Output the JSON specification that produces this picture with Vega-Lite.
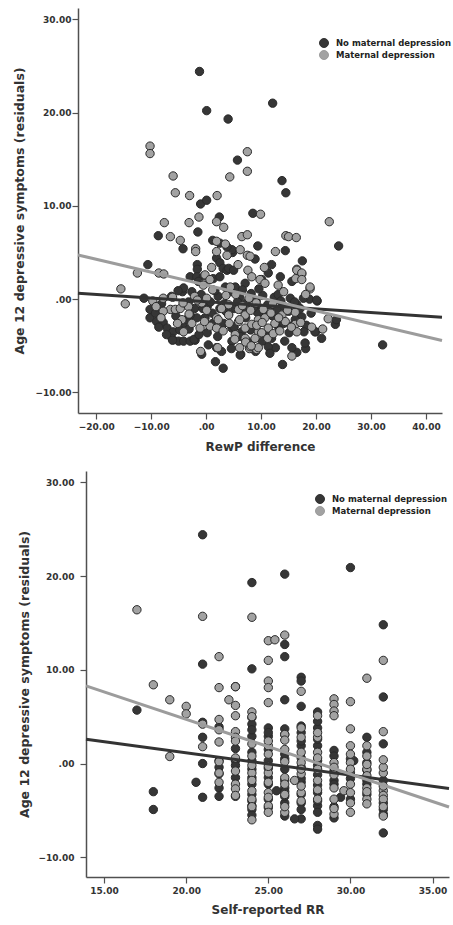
{
"$schema":"https://vega.github.io/schema/vega-lite/v6.json",
"padding":{"left":13,"top":8,"right":2,"bottom":2},
"background":"white",
"config":{"view":{"stroke":null},"font":"DejaVu Sans",
 "axis":{"grid":false,"domainColor":"#505050","domainWidth":1.5,"tickColor":"#505050","tickWidth":1.2,"tickSize":6,"labelFont":"DejaVu Sans","labelFontWeight":"bold","labelFontSize":9,"labelColor":"#333","titleFont":"DejaVu Sans","titleFontWeight":"bold","titleColor":"#333"},
 "legend":{"labelFont":"DejaVu Sans","labelFontWeight":"bold","labelFontSize":8.5,"labelColor":"#222","symbolType":"circle","symbolSize":81,"symbolStrokeColor":"#222","symbolStrokeWidth":1,"rowPadding":-3,"padding":0,"labelOffset":7}},
"datasets":{
"top":[
{"x":-1.2,"y":24.4,"g":"N"},{"x":0.1,"y":20.2,"g":"N"},{"x":4.0,"y":19.3,"g":"N"},{"x":12.1,"y":21.0,"g":"N"},{"x":5.7,"y":14.9,"g":"N"},{"x":13.8,"y":12.7,"g":"N"},{"x":14.5,"y":11.4,"g":"N"},{"x":-1.0,"y":10.2,"g":"N"},{"x":0.1,"y":10.6,"g":"N"},{"x":8.5,"y":9.2,"g":"N"},{"x":2.4,"y":8.8,"g":"N"},{"x":-8.7,"y":6.8,"g":"N"},{"x":-1.5,"y":7.2,"g":"N"},{"x":24.1,"y":5.7,"g":"N"},{"x":9.4,"y":5.7,"g":"N"},{"x":1.2,"y":6.3,"g":"N"},{"x":-4.2,"y":5.4,"g":"N"},{"x":4.8,"y":5.0,"g":"N"},{"x":14.4,"y":5.2,"g":"N"},{"x":17.5,"y":4.1,"g":"N"},{"x":-10.6,"y":3.7,"g":"N"},{"x":32.1,"y":-4.9,"g":"N"},{"x":13.9,"y":-7.0,"g":"N"},{"x":3.1,"y":-7.4,"g":"N"},{"x":1.7,"y":-6.7,"g":"N"},{"x":6.3,"y":-5.9,"g":"N"},{"x":-0.8,"y":-5.9,"g":"N"},{"x":0.4,"y":-4.9,"g":"N"},{"x":14.3,"y":-4.5,"g":"N"},{"x":21.0,"y":-4.2,"g":"N"},{"x":19.9,"y":-3.5,"g":"N"},{"x":23.5,"y":-2.7,"g":"N"},{"x":23.7,"y":-2.2,"g":"N"},{"x":20.2,"y":-0.2,"g":"N"},{"x":18.8,"y":0.0,"g":"N"},{"x":18.1,"y":-5.3,"g":"N"},{"x":16.5,"y":-5.7,"g":"N"},{"x":15.6,"y":-5.2,"g":"N"},{"x":12.6,"y":-5.2,"g":"N"},
{"x":-11.3,"y":0.1,"g":"N"},{"x":-10.2,"y":-1.1,"g":"N"},{"x":-10.2,"y":-2.0,"g":"N"},{"x":-9.0,"y":-2.4,"g":"N"},{"x":-7.8,"y":-2.5,"g":"N"},{"x":-7.1,"y":-3.1,"g":"N"},{"x":-6.0,"y":-3.5,"g":"N"},{"x":-6.2,"y":-4.2,"g":"N"},{"x":-5.0,"y":-4.5,"g":"N"},{"x":-4.1,"y":-4.5,"g":"N"},{"x":-2.9,"y":-4.5,"g":"N"},{"x":-2.0,"y":-4.4,"g":"N"},{"x":-4.3,"y":0.8,"g":"N"},{"x":-2.6,"y":0.8,"g":"N"},{"x":1.9,"y":-5.2,"g":"N"},{"x":-1.7,"y":-2.0,"g":"N"},{"x":-0.2,"y":-2.0,"g":"N"},{"x":-2.9,"y":-1.7,"g":"N"},{"x":2.5,"y":-1.0,"g":"N"},
{"x":17.7,"y":0.1,"g":"N"},{"x":20.1,"y":-0.1,"g":"N"},{"x":19.8,"y":-3.5,"g":"N"},{"x":18.0,"y":-4.7,"g":"N"},{"x":4.7,"y":-4.5,"g":"N"},{"x":6.2,"y":-6.0,"g":"N"},{"x":11.3,"y":-5.1,"g":"N"},{"x":11.9,"y":-4.2,"g":"N"},{"x":6.5,"y":-3.5,"g":"N"},{"x":4.7,"y":-3.1,"g":"N"},{"x":10.1,"y":-1.0,"g":"N"},{"x":12.5,"y":-1.0,"g":"N"},{"x":15.0,"y":-1.3,"g":"N"},{"x":17.4,"y":-1.9,"g":"N"},{"x":16.5,"y":-0.6,"g":"N"},
{"x":-1.6,"y":3.7,"g":"N"},{"x":-1.6,"y":3.2,"g":"N"},{"x":2.5,"y":6.0,"g":"N"},{"x":1.9,"y":4.4,"g":"N"},{"x":2.5,"y":3.9,"g":"N"},{"x":3.1,"y":3.3,"g":"N"},{"x":3.8,"y":3.1,"g":"N"},{"x":-2.9,"y":2.4,"g":"N"},{"x":-1.7,"y":2.4,"g":"N"},{"x":-0.5,"y":2.4,"g":"N"},{"x":1.3,"y":2.2,"g":"N"},{"x":2.5,"y":2.4,"g":"N"},{"x":-4.1,"y":1.2,"g":"N"},{"x":-1.4,"y":1.9,"g":"N"},
{"x":4.7,"y":5.3,"g":"N"},{"x":3.8,"y":5.6,"g":"N"},{"x":8.9,"y":4.3,"g":"N"},{"x":4.1,"y":3.3,"g":"N"},{"x":5.0,"y":3.1,"g":"N"},{"x":11.9,"y":3.7,"g":"N"},{"x":11.3,"y":2.8,"g":"N"},{"x":15.6,"y":1.9,"g":"N"},{"x":10.1,"y":2.1,"g":"N"},{"x":13.5,"y":2.4,"g":"N"},{"x":7.1,"y":1.7,"g":"N"},{"x":5.3,"y":1.3,"g":"N"},{"x":3.5,"y":1.3,"g":"N"},
{"x":-3.2,"y":-0.3,"g":"N"},{"x":-2.1,"y":-1.0,"g":"N"},{"x":-0.9,"y":0.5,"g":"N"},{"x":0.2,"y":-0.8,"g":"N"},{"x":1.1,"y":-1.5,"g":"N"},{"x":2.2,"y":0.3,"g":"N"},{"x":3.3,"y":-0.5,"g":"N"},{"x":4.4,"y":0.8,"g":"N"},{"x":5.2,"y":-1.0,"g":"N"},{"x":6.1,"y":0.2,"g":"N"},{"x":7.3,"y":-0.4,"g":"N"},{"x":8.2,"y":0.6,"g":"N"},{"x":9.1,"y":-0.2,"g":"N"},{"x":10.3,"y":0.4,"g":"N"},{"x":11.2,"y":-0.6,"g":"N"},{"x":12.4,"y":0.2,"g":"N"},{"x":13.1,"y":0.5,"g":"N"},{"x":14.2,"y":-0.8,"g":"N"},{"x":15.3,"y":0.1,"g":"N"},{"x":16.1,"y":-0.3,"g":"N"},{"x":-5.1,"y":0.9,"g":"N"},{"x":-6.3,"y":0.3,"g":"N"},{"x":-8.1,"y":-0.5,"g":"N"},{"x":-9.2,"y":-1.5,"g":"N"},{"x":-4.2,"y":-2.6,"g":"N"},{"x":-3.1,"y":-3.2,"g":"N"},{"x":0.2,"y":-3.6,"g":"N"},{"x":2.1,"y":-4.0,"g":"N"},{"x":3.2,"y":-2.6,"g":"N"},{"x":5.1,"y":-3.0,"g":"N"},{"x":6.2,"y":-4.0,"g":"N"},{"x":8.1,"y":-3.3,"g":"N"},{"x":10.2,"y":-4.5,"g":"N"},{"x":11.1,"y":-3.8,"g":"N"},{"x":13.2,"y":-3.0,"g":"N"},{"x":15.1,"y":-3.6,"g":"N"},{"x":16.2,"y":-2.2,"g":"N"},{"x":17.1,"y":-1.0,"g":"N"},{"x":18.2,"y":-2.8,"g":"N"},{"x":19.1,"y":-1.5,"g":"N"},{"x":-7.2,"y":-3.8,"g":"N"},{"x":-6.1,"y":-4.4,"g":"N"},{"x":-2.2,"y":-4.3,"g":"N"},{"x":1.2,"y":-2.6,"g":"N"},{"x":4.1,"y":-1.6,"g":"N"},{"x":7.2,"y":-2.0,"g":"N"},{"x":9.3,"y":-1.4,"g":"N"},{"x":12.1,"y":-1.8,"g":"N"},{"x":14.1,"y":-2.6,"g":"N"},
{"x":-5.5,"y":-1.8,"g":"N"},{"x":-3.6,"y":-2.2,"g":"N"},{"x":-1.3,"y":-3.8,"g":"N"},{"x":0.8,"y":-0.3,"g":"N"},{"x":1.6,"y":0.9,"g":"N"},{"x":3.6,"y":-1.3,"g":"N"},{"x":5.7,"y":-0.3,"g":"N"},{"x":6.8,"y":-1.2,"g":"N"},{"x":8.6,"y":-0.9,"g":"N"},{"x":9.8,"y":-2.2,"g":"N"},{"x":10.8,"y":-1.6,"g":"N"},{"x":12.9,"y":-1.2,"g":"N"},{"x":13.6,"y":-0.2,"g":"N"},{"x":15.8,"y":-2.8,"g":"N"},{"x":17.8,"y":-3.5,"g":"N"},{"x":-8.6,"y":-3.0,"g":"N"},{"x":-4.8,"y":-3.3,"g":"N"},{"x":2.8,"y":-5.6,"g":"N"},{"x":4.6,"y":-5.3,"g":"N"},{"x":7.8,"y":-4.6,"g":"N"},{"x":9.0,"y":-5.6,"g":"N"},{"x":11.6,"y":-5.8,"g":"N"},{"x":6.6,"y":1.0,"g":"N"},{"x":9.6,"y":1.1,"g":"N"},{"x":-0.6,"y":-1.0,"g":"N"},
{"x":-10.2,"y":16.4,"g":"M"},{"x":-10.2,"y":15.6,"g":"M"},{"x":7.5,"y":15.8,"g":"M"},{"x":7.5,"y":13.7,"g":"M"},{"x":4.3,"y":13.1,"g":"M"},{"x":-6.0,"y":13.2,"g":"M"},{"x":-5.6,"y":11.4,"g":"M"},{"x":-3.0,"y":11.1,"g":"M"},{"x":2.0,"y":11.1,"g":"M"},{"x":9.9,"y":9.1,"g":"M"},{"x":-1.3,"y":8.8,"g":"M"},{"x":-3.1,"y":8.2,"g":"M"},{"x":-7.6,"y":8.2,"g":"M"},{"x":1.9,"y":8.3,"g":"M"},{"x":3.2,"y":7.7,"g":"M"},{"x":22.4,"y":8.3,"g":"M"},{"x":-6.5,"y":6.7,"g":"M"},{"x":-4.7,"y":6.3,"g":"M"},{"x":6.5,"y":6.7,"g":"M"},{"x":7.5,"y":6.9,"g":"M"},{"x":14.5,"y":6.8,"g":"M"},{"x":15.0,"y":6.7,"g":"M"},{"x":16.4,"y":6.6,"g":"M"},{"x":3.5,"y":5.9,"g":"M"},{"x":-1.9,"y":5.4,"g":"M"},{"x":-1.9,"y":5.1,"g":"M"},{"x":12.6,"y":5.1,"g":"M"},{"x":7.5,"y":4.7,"g":"M"},{"x":-12.5,"y":2.8,"g":"M"},{"x":-15.5,"y":1.1,"g":"M"},{"x":-14.7,"y":-0.5,"g":"M"},{"x":-8.6,"y":2.8,"g":"M"},{"x":-7.7,"y":2.7,"g":"M"},{"x":18.9,"y":1.1,"g":"M"},{"x":22.2,"y":-2.1,"g":"M"},{"x":21.2,"y":-3.2,"g":"M"},{"x":15.6,"y":-6.1,"g":"M"},{"x":-1.0,"y":-5.6,"g":"M"},{"x":2.1,"y":-5.2,"g":"M"},{"x":7.9,"y":-5.3,"g":"M"},{"x":9.2,"y":-5.4,"g":"M"},{"x":16.5,"y":3.2,"g":"M"},{"x":17.4,"y":2.7,"g":"M"},{"x":5.8,"y":3.7,"g":"M"},{"x":9.8,"y":2.1,"g":"M"},{"x":-0.2,"y":1.7,"g":"M"},
{"x":-9.7,"y":-0.2,"g":"M"},{"x":-7.8,"y":0.1,"g":"M"},{"x":-6.5,"y":-1.1,"g":"M"},{"x":-7.8,"y":-1.3,"g":"M"},{"x":-5.6,"y":-1.1,"g":"M"},{"x":-4.7,"y":-1.0,"g":"M"},{"x":-4.4,"y":-2.2,"g":"M"},{"x":-4.1,"y":-3.5,"g":"M"},{"x":-3.2,"y":-0.8,"g":"M"},{"x":-0.8,"y":-0.4,"g":"M"},{"x":0.1,"y":0.1,"g":"M"},{"x":-1.1,"y":-3.1,"g":"M"},{"x":0.7,"y":-2.9,"g":"M"},{"x":1.9,"y":-2.0,"g":"M"},{"x":1.9,"y":-3.1,"g":"M"},
{"x":4.1,"y":-0.6,"g":"M"},{"x":4.1,"y":-1.7,"g":"M"},{"x":5.9,"y":-1.1,"g":"M"},{"x":5.9,"y":-2.4,"g":"M"},{"x":7.1,"y":-1.7,"g":"M"},{"x":7.1,"y":-3.1,"g":"M"},{"x":8.3,"y":-2.7,"g":"M"},{"x":9.5,"y":-2.2,"g":"M"},{"x":9.5,"y":-3.5,"g":"M"},{"x":10.7,"y":-2.0,"g":"M"},{"x":11.3,"y":-3.1,"g":"M"},{"x":12.5,"y":-2.6,"g":"M"},{"x":13.8,"y":-1.7,"g":"M"},{"x":14.4,"y":-2.4,"g":"M"},{"x":16.2,"y":-2.7,"g":"M"},{"x":16.5,"y":-3.5,"g":"M"},{"x":5.3,"y":-3.8,"g":"M"},{"x":7.1,"y":-4.2,"g":"M"},{"x":8.9,"y":-4.2,"g":"M"},{"x":8.0,"y":-5.1,"g":"M"},{"x":9.5,"y":-5.2,"g":"M"},
{"x":1.9,"y":5.1,"g":"M"},{"x":3.8,"y":4.7,"g":"M"},{"x":1.9,"y":6.2,"g":"M"},{"x":1.0,"y":3.4,"g":"M"},{"x":-0.2,"y":2.6,"g":"M"},{"x":0.7,"y":2.1,"g":"M"},{"x":-0.5,"y":1.5,"g":"M"},{"x":4.4,"y":1.3,"g":"M"},
{"x":6.2,"y":5.3,"g":"M"},{"x":8.0,"y":4.6,"g":"M"},{"x":7.6,"y":3.1,"g":"M"},{"x":10.6,"y":3.4,"g":"M"},{"x":16.5,"y":3.1,"g":"M"},{"x":17.4,"y":2.8,"g":"M"},{"x":16.3,"y":2.2,"g":"M"},{"x":17.4,"y":2.1,"g":"M"},{"x":8.3,"y":2.4,"g":"M"},{"x":10.7,"y":1.7,"g":"M"},{"x":13.1,"y":1.5,"g":"M"},{"x":18.9,"y":1.3,"g":"M"},
{"x":-6.1,"y":0.2,"g":"M"},{"x":-4.2,"y":-0.4,"g":"M"},{"x":-2.1,"y":0.3,"g":"M"},{"x":0.1,"y":-1.2,"g":"M"},{"x":2.2,"y":-2.2,"g":"M"},{"x":3.1,"y":-3.4,"g":"M"},{"x":5.2,"y":-4.3,"g":"M"},{"x":6.1,"y":-2.2,"g":"M"},{"x":7.2,"y":-4.6,"g":"M"},{"x":8.1,"y":-1.2,"g":"M"},{"x":9.2,"y":-2.8,"g":"M"},{"x":10.1,"y":-3.6,"g":"M"},{"x":11.2,"y":-4.2,"g":"M"},{"x":12.1,"y":-0.5,"g":"M"},{"x":13.2,"y":-2.0,"g":"M"},{"x":14.1,"y":0.8,"g":"M"},{"x":16.2,"y":-1.4,"g":"M"},{"x":17.2,"y":-2.5,"g":"M"},{"x":18.1,"y":0.5,"g":"M"},{"x":19.2,"y":-3.0,"g":"M"},{"x":-8.2,"y":-2.0,"g":"M"},{"x":-9.1,"y":-0.8,"g":"M"},{"x":-3.1,"y":-1.6,"g":"M"},{"x":1.2,"y":1.0,"g":"M"},{"x":4.2,"y":-2.6,"g":"M"},{"x":6.1,"y":-5.2,"g":"M"},{"x":8.2,"y":-5.0,"g":"M"},{"x":10.2,"y":-2.5,"g":"M"},{"x":12.2,"y":-3.7,"g":"M"},
{"x":-2.6,"y":-2.6,"g":"M"},{"x":-0.3,"y":-2.4,"g":"M"},{"x":2.8,"y":-1.0,"g":"M"},{"x":3.6,"y":0.4,"g":"M"},{"x":5.4,"y":0.5,"g":"M"},{"x":6.6,"y":-0.7,"g":"M"},{"x":7.8,"y":0.1,"g":"M"},{"x":9.1,"y":-0.4,"g":"M"},{"x":10.4,"y":-1.1,"g":"M"},{"x":11.8,"y":-1.5,"g":"M"},{"x":13.4,"y":-3.4,"g":"M"},{"x":14.8,"y":-1.2,"g":"M"},{"x":15.5,"y":-3.0,"g":"M"},{"x":-5.2,"y":-2.6,"g":"M"},{"x":-1.6,"y":-0.1,"g":"M"}
],
"topLines":[{"x":-23.3,"y":0.64,"g":"N"},{"x":42.9,"y":-1.93,"g":"N"},{"x":-23.3,"y":4.74,"g":"M"},{"x":42.9,"y":-4.43,"g":"M"}],
"bot":[
{"x":17,"y":5.7,"g":"N"},{"x":18,"y":-3.0,"g":"N"},{"x":18,"y":-4.9,"g":"N"},{"x":20.6,"y":-2.0,"g":"N"},
{"x":21,"y":24.4,"g":"N"},{"x":21,"y":10.6,"g":"N"},{"x":21,"y":4.4,"g":"N"},{"x":21,"y":2.8,"g":"N"},{"x":21,"y":0.0,"g":"N"},{"x":21,"y":-3.6,"g":"N"},
{"x":22,"y":0.3,"g":"N"},{"x":22,"y":-0.4,"g":"N"},{"x":22,"y":-1.1,"g":"N"},{"x":22,"y":-2.6,"g":"N"},{"x":22,"y":-3.5,"g":"N"},{"x":22,"y":3.9,"g":"N"},
{"x":23,"y":8.2,"g":"N"},{"x":23,"y":0.3,"g":"N"},{"x":23,"y":-3.5,"g":"N"},{"x":23,"y":-0.2,"g":"N"},{"x":23,"y":-1.5,"g":"N"},{"x":23,"y":1.6,"g":"N"},
{"x":24,"y":19.3,"g":"N"},{"x":24,"y":10.1,"g":"N"},{"x":24,"y":4.9,"g":"N"},{"x":24,"y":4.2,"g":"N"},{"x":24,"y":2.9,"g":"N"},{"x":24,"y":0.3,"g":"N"},{"x":24,"y":-4.0,"g":"N"},{"x":24,"y":-4.9,"g":"N"},{"x":24,"y":3.6,"g":"N"},{"x":24,"y":-0.6,"g":"N"},{"x":24,"y":-2.2,"g":"N"},{"x":24,"y":-3.3,"g":"N"},{"x":24,"y":-4.5,"g":"N"},{"x":24,"y":1.2,"g":"N"},{"x":24,"y":-1.5,"g":"N"},{"x":24,"y":-5.5,"g":"N"},
{"x":25,"y":3.8,"g":"N"},{"x":25,"y":2.9,"g":"N"},{"x":25,"y":0.3,"g":"N"},{"x":25,"y":-3.8,"g":"N"},{"x":25.5,"y":-2.9,"g":"N"},{"x":25,"y":3.3,"g":"N"},{"x":25,"y":-0.5,"g":"N"},{"x":25,"y":-1.5,"g":"N"},{"x":25,"y":-4.7,"g":"N"},{"x":25,"y":1.5,"g":"N"},{"x":25,"y":-2.2,"g":"N"},
{"x":26,"y":20.2,"g":"N"},{"x":26,"y":12.7,"g":"N"},{"x":26,"y":11.4,"g":"N"},{"x":26,"y":6.8,"g":"N"},{"x":26,"y":3.7,"g":"N"},{"x":26,"y":0.5,"g":"N"},{"x":26,"y":-0.6,"g":"N"},{"x":26,"y":-2.6,"g":"N"},{"x":26,"y":-4.2,"g":"N"},{"x":26,"y":3.1,"g":"N"},{"x":26,"y":-1.8,"g":"N"},{"x":26,"y":-3.5,"g":"N"},{"x":26,"y":1.0,"g":"N"},{"x":26,"y":-3.0,"g":"N"},{"x":26,"y":-5.6,"g":"N"},
{"x":27,"y":9.2,"g":"N"},{"x":27,"y":8.8,"g":"N"},{"x":27,"y":6.1,"g":"N"},{"x":27,"y":4.0,"g":"N"},{"x":27,"y":1.9,"g":"N"},{"x":27,"y":-2.0,"g":"N"},{"x":27,"y":-4.2,"g":"N"},{"x":27,"y":-4.9,"g":"N"},{"x":27,"y":-5.9,"g":"N"},{"x":26.6,"y":-5.9,"g":"N"},{"x":27,"y":3.3,"g":"N"},{"x":27,"y":-0.4,"g":"N"},{"x":27,"y":-3.3,"g":"N"},{"x":27,"y":0.6,"g":"N"},{"x":27,"y":-1.6,"g":"N"},{"x":27,"y":2.4,"g":"N"},
{"x":28,"y":5.5,"g":"N"},{"x":28,"y":3.8,"g":"N"},{"x":28,"y":1.9,"g":"N"},{"x":28,"y":0.3,"g":"N"},{"x":28,"y":-3.1,"g":"N"},{"x":28,"y":-4.5,"g":"N"},{"x":28,"y":-5.2,"g":"N"},{"x":28,"y":-6.6,"g":"N"},{"x":28,"y":-7.0,"g":"N"},{"x":28,"y":2.6,"g":"N"},{"x":28,"y":-1.2,"g":"N"},{"x":28,"y":-2.3,"g":"N"},{"x":28,"y":-0.2,"g":"N"},{"x":28,"y":-4.0,"g":"N"},{"x":28,"y":4.5,"g":"N"},
{"x":29,"y":1.4,"g":"N"},{"x":29,"y":0.8,"g":"N"},{"x":29,"y":-0.8,"g":"N"},{"x":29.4,"y":-3.6,"g":"N"},{"x":29,"y":-5.8,"g":"N"},{"x":29,"y":-1.8,"g":"N"},{"x":29,"y":-2.2,"g":"N"},{"x":29,"y":-4.6,"g":"N"},
{"x":30,"y":20.9,"g":"N"},{"x":30,"y":0.5,"g":"N"},{"x":30,"y":-1.0,"g":"N"},{"x":30.2,"y":0.3,"g":"N"},{"x":30,"y":-1.6,"g":"N"},{"x":30,"y":-3.8,"g":"N"},
{"x":31,"y":2.8,"g":"N"},{"x":31,"y":0.1,"g":"N"},{"x":31,"y":-1.8,"g":"N"},{"x":31,"y":-3.3,"g":"N"},{"x":31,"y":-0.7,"g":"N"},{"x":31,"y":1.2,"g":"N"},{"x":31,"y":-2.2,"g":"N"},
{"x":32,"y":14.8,"g":"N"},{"x":32,"y":7.1,"g":"N"},{"x":32,"y":2.1,"g":"N"},{"x":32,"y":-1.8,"g":"N"},{"x":32,"y":-4.9,"g":"N"},{"x":32,"y":-5.4,"g":"N"},{"x":32,"y":-7.4,"g":"N"},{"x":32,"y":-4.2,"g":"N"},
{"x":17,"y":16.4,"g":"M"},{"x":18,"y":8.4,"g":"M"},{"x":19,"y":6.8,"g":"M"},{"x":19,"y":0.75,"g":"M"},{"x":20,"y":6.1,"g":"M"},{"x":20,"y":5.3,"g":"M"},
{"x":21,"y":15.7,"g":"M"},{"x":21,"y":4.2,"g":"M"},{"x":21,"y":1.8,"g":"M"},
{"x":22,"y":11.4,"g":"M"},{"x":22,"y":8.1,"g":"M"},{"x":22,"y":4.7,"g":"M"},{"x":22,"y":2.3,"g":"M"},{"x":22,"y":-1.0,"g":"M"},{"x":22,"y":3.6,"g":"M"},{"x":22,"y":0.2,"g":"M"},{"x":22,"y":-2.0,"g":"M"},
{"x":22.6,"y":6.8,"g":"M"},
{"x":23,"y":8.2,"g":"M"},{"x":23,"y":6.2,"g":"M"},{"x":23,"y":5.1,"g":"M"},{"x":23,"y":3.4,"g":"M"},{"x":23,"y":2.8,"g":"M"},{"x":23,"y":2.4,"g":"M"},{"x":23,"y":-0.8,"g":"M"},{"x":23,"y":-2.2,"g":"M"},{"x":23,"y":-2.7,"g":"M"},{"x":23,"y":-3.4,"g":"M"},{"x":23,"y":0.6,"g":"M"},
{"x":24,"y":15.6,"g":"M"},{"x":24,"y":5.5,"g":"M"},{"x":24,"y":2.1,"g":"M"},{"x":24,"y":-1.0,"g":"M"},{"x":24,"y":-1.8,"g":"M"},{"x":24,"y":-2.9,"g":"M"},{"x":24,"y":-6.0,"g":"M"},{"x":24,"y":-3.8,"g":"M"},{"x":24,"y":5.0,"g":"M"},{"x":24,"y":0.8,"g":"M"},{"x":24,"y":-0.2,"g":"M"},{"x":24,"y":-4.6,"g":"M"},
{"x":25,"y":13.1,"g":"M"},{"x":25,"y":11.0,"g":"M"},{"x":25,"y":8.8,"g":"M"},{"x":25,"y":8.1,"g":"M"},{"x":25,"y":6.5,"g":"M"},{"x":25,"y":1.9,"g":"M"},{"x":25,"y":1.0,"g":"M"},{"x":25,"y":-1.0,"g":"M"},{"x":25,"y":-2.0,"g":"M"},{"x":25,"y":-3.1,"g":"M"},{"x":25,"y":-4.5,"g":"M"},{"x":25,"y":-5.2,"g":"M"},{"x":25,"y":-0.3,"g":"M"},{"x":25,"y":2.4,"g":"M"},{"x":25,"y":-3.6,"g":"M"},
{"x":25.4,"y":13.2,"g":"M"},
{"x":26,"y":13.7,"g":"M"},{"x":26,"y":3.1,"g":"M"},{"x":26,"y":1.5,"g":"M"},{"x":26,"y":-1.5,"g":"M"},{"x":26,"y":-3.3,"g":"M"},{"x":26,"y":-5.2,"g":"M"},{"x":26,"y":2.5,"g":"M"},{"x":26,"y":-4.6,"g":"M"},{"x":26,"y":0.2,"g":"M"},{"x":26,"y":-2.2,"g":"M"},
{"x":26.6,"y":-1.8,"g":"M"},
{"x":27,"y":7.7,"g":"M"},{"x":27,"y":2.8,"g":"M"},{"x":27,"y":1.2,"g":"M"},{"x":27,"y":0.1,"g":"M"},{"x":27,"y":-1.1,"g":"M"},{"x":27,"y":-3.1,"g":"M"},{"x":27,"y":-2.4,"g":"M"},{"x":27,"y":-0.6,"g":"M"},{"x":27,"y":-4.0,"g":"M"},{"x":27,"y":3.8,"g":"M"},
{"x":28,"y":5.1,"g":"M"},{"x":28,"y":2.8,"g":"M"},{"x":28,"y":1.2,"g":"M"},{"x":28,"y":-0.6,"g":"M"},{"x":28,"y":-1.8,"g":"M"},{"x":28,"y":0.6,"g":"M"},{"x":28,"y":-3.8,"g":"M"},{"x":28,"y":3.3,"g":"M"},{"x":28,"y":-2.8,"g":"M"},
{"x":29,"y":6.9,"g":"M"},{"x":29,"y":6.3,"g":"M"},{"x":29,"y":5.6,"g":"M"},{"x":29,"y":5.1,"g":"M"},{"x":29,"y":0.1,"g":"M"},{"x":29,"y":-2.6,"g":"M"},{"x":29,"y":-3.8,"g":"M"},{"x":29,"y":-5.4,"g":"M"},{"x":29,"y":-0.4,"g":"M"},{"x":29,"y":-1.2,"g":"M"},{"x":29,"y":-4.8,"g":"M"},
{"x":29.6,"y":-2.9,"g":"M"},
{"x":30,"y":6.6,"g":"M"},{"x":30,"y":3.7,"g":"M"},{"x":30,"y":1.9,"g":"M"},{"x":30,"y":0.1,"g":"M"},{"x":30,"y":-2.2,"g":"M"},{"x":30,"y":-3.1,"g":"M"},{"x":30,"y":-4.2,"g":"M"},{"x":30,"y":-5.2,"g":"M"},{"x":30,"y":1.0,"g":"M"},{"x":30,"y":-0.6,"g":"M"},
{"x":31,"y":9.1,"g":"M"},{"x":31,"y":1.9,"g":"M"},{"x":31,"y":-0.6,"g":"M"},{"x":31,"y":-1.3,"g":"M"},{"x":31,"y":-2.6,"g":"M"},{"x":31,"y":-3.8,"g":"M"},{"x":31,"y":-4.3,"g":"M"},{"x":31,"y":-0.1,"g":"M"},{"x":31,"y":0.8,"g":"M"},{"x":31,"y":-3.0,"g":"M"},
{"x":32,"y":11.0,"g":"M"},{"x":32,"y":3.4,"g":"M"},{"x":32,"y":-1.0,"g":"M"},{"x":32,"y":-2.9,"g":"M"},{"x":32,"y":-3.4,"g":"M"},{"x":32,"y":-3.8,"g":"M"},{"x":32,"y":-5.6,"g":"M"},{"x":32,"y":-2.4,"g":"M"},{"x":32,"y":-0.4,"g":"M"},{"x":32,"y":0.4,"g":"M"},{"x":32,"y":-4.6,"g":"M"}
],
"botLines":[{"x":13.9,"y":2.59,"g":"N"},{"x":36.0,"y":-2.67,"g":"N"},{"x":13.9,"y":8.28,"g":"M"},{"x":36.0,"y":-4.63,"g":"M"}]
},
"spacing":19,
"resolve":{"scale":{"color":"independent","stroke":"independent","x":"independent","y":"independent"},"legend":{"color":"independent"}},
"vconcat":[
{"width":364,"height":405,
 "layer":[
  {"data":{"name":"top"},"mark":{"type":"circle","size":70,"opacity":1,"stroke":"#2a2a2a","strokeWidth":1},
   "encoding":{
    "x":{"field":"x","type":"quantitative","scale":{"domain":[-23.3,42.9],"nice":false,"zero":false},"axis":{"values":[-20,-10,0,10,20,30,40],"labelExpr":"datum.value==0?'.00':format(datum.value,'.2f')","title":"RewP difference","titleFontSize":12,"labelPadding":3,"titlePadding":10}},
    "y":{"field":"y","type":"quantitative","scale":{"domain":[-12.2,31.2],"nice":false,"zero":false},"axis":{"values":[-10,0,10,20,30],"labelExpr":"datum.value==0?'.00':format(datum.value,'.2f')","title":"Age 12 depressive symptoms (residuals)","titleFontSize":12.5,"labelPadding":1,"titlePadding":8}},
    "color":{"field":"g","type":"nominal","scale":{"domain":["N","M"],"range":["#363636","#a2a2a2"]},"legend":{"title":null,"orient":"none","legendX":241,"legendY":30,"labelExpr":"datum.value=='N'?'No maternal depression':'Maternal depression'"}}}},
  {"data":{"name":"topLines"},"mark":{"type":"line","strokeWidth":3},
   "encoding":{"x":{"field":"x","type":"quantitative"},"y":{"field":"y","type":"quantitative"},"detail":{"field":"g"},
    "stroke":{"field":"g","type":"nominal","scale":{"domain":["N","M"],"range":["#333333","#9c9c9c"]},"legend":null}}}
 ]},
{"hconcat":[
 {"width":1,"height":1,"data":{"values":[]},"mark":{"type":"point","opacity":0},"encoding":{}},
 {"width":363,"height":406,
 "layer":[
  {"data":{"name":"bot"},"mark":{"type":"circle","size":70,"opacity":1,"stroke":"#2a2a2a","strokeWidth":1},
   "encoding":{
    "x":{"field":"x","type":"quantitative","scale":{"domain":[13.9,36.0],"nice":false,"zero":false},"axis":{"values":[15,20,25,30,35],"format":".2f","title":"Self-reported RR","titleFontSize":12,"labelPadding":3,"titlePadding":9}},
    "y":{"field":"y","type":"quantitative","scale":{"domain":[-12.1,31.2],"nice":false,"zero":false},"axis":{"values":[-10,0,10,20,30],"labelExpr":"datum.value==0?'.00':format(datum.value,'.2f')","title":"Age 12 depressive symptoms (residuals)","titleFontSize":12.5,"labelPadding":6,"titlePadding":6}},
    "color":{"field":"g","type":"nominal","scale":{"domain":["N","M"],"range":["#363636","#a2a2a2"]},"legend":{"title":null,"orient":"none","legendX":229,"legendY":23,"labelExpr":"datum.value=='N'?'No maternal depression':'Maternal depression'"}}}},
  {"data":{"name":"botLines"},"mark":{"type":"line","strokeWidth":3},
   "encoding":{"x":{"field":"x","type":"quantitative"},"y":{"field":"y","type":"quantitative"},"detail":{"field":"g"},
    "stroke":{"field":"g","type":"nominal","scale":{"domain":["N","M"],"range":["#333333","#9c9c9c"]},"legend":null}}}
 ]}],
 "spacing":7,
 "bounds":"flush",
 "resolve":{"scale":{"color":"independent","stroke":"independent"},"legend":{"color":"independent"}}}
]
}
